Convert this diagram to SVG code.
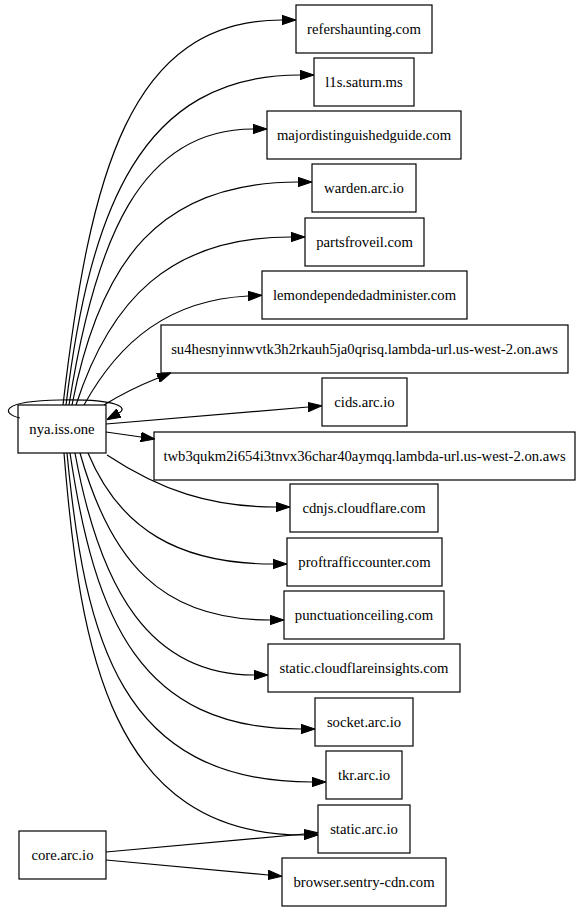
<svg xmlns="http://www.w3.org/2000/svg" width="580" height="912" viewBox="0 0 580 912">
<defs>
<marker id="ah" viewBox="0 -5 14 10" markerWidth="14" markerHeight="10" refX="0" refY="0" orient="auto" markerUnits="userSpaceOnUse">
<path d="M0,-4.7 L14,0 L0,4.7 z" fill="#000" stroke="#000" stroke-width="1"/>
</marker>
<style>
.n rect{fill:none;stroke:#000;stroke-width:1.2}
.n text{font-size:14.7px;text-anchor:middle;fill:#000}
#edges path{fill:none;stroke:#000;stroke-width:1.2;marker-end:url(#ah)}
</style>
</defs>
<rect width="580" height="912" fill="#fff"/>
<g id="edges">
<path d="M20,418 C2,414 -2,401 60,400 C120,399 128,408 119,413"/>
<path d="M63,405 C90,174 129,20 282,20"/>
<path d="M66,405 C90,210 140,75 300,75"/>
<path d="M69,405 C95,240 140,129 253,129"/>
<path d="M72,405 C100,260 160,182 298,182"/>
<path d="M76,405 C110,300 170,237 291,237"/>
<path d="M84,405 C120,340 170,300 248,296"/>
<path d="M104,405 C120,395 138,386 158,378"/>
<path d="M106,424 L308,407"/>
<path d="M106,432 L141,437"/>
<path d="M107,455 C160,490 210,507 276,507"/>
<path d="M88,453 C120,530 180,564 273,564"/>
<path d="M80,453 C110,560 160,620 270,620"/>
<path d="M75,453 C100,590 150,675 254,675"/>
<path d="M70,453 C95,620 140,729 301,729"/>
<path d="M67,453 C85,640 120,782 312,782"/>
<path d="M64,453 C80,650 110,835 304,835"/>
<path d="M106,852 L304,834"/>
<path d="M106,860 L268,875"/>
</g>
<g font-family="'Liberation Serif', 'Times New Roman', Times, 'DejaVu Serif', serif">
<g id="nya" class="n"><rect x="18" y="405" width="88" height="48"/><text x="62" y="434">nya.iss.one</text></g>
<g id="core" class="n"><rect x="19" y="831" width="87" height="48"/><text x="62.5" y="860">core.arc.io</text></g>
<g id="n1" class="n"><rect x="296" y="5" width="136" height="48"/><text x="364" y="34">refershaunting.com</text></g>
<g id="n2" class="n"><rect x="314" y="58" width="100" height="48"/><text x="364" y="87">l1s.saturn.ms</text></g>
<g id="n3" class="n"><rect x="267" y="111" width="194" height="48"/><text x="364" y="140">majordistinguishedguide.com</text></g>
<g id="n4" class="n"><rect x="312" y="164" width="104" height="48"/><text x="364" y="193">warden.arc.io</text></g>
<g id="n5" class="n"><rect x="305" y="218" width="119" height="48"/><text x="364.5" y="247">partsfroveil.com</text></g>
<g id="n6" class="n"><rect x="262" y="271" width="205" height="48"/><text x="364.5" y="300">lemondependedadminister.com</text></g>
<g id="n7" class="n"><rect x="161" y="325" width="407" height="48"/><text x="364.5" y="354">su4hesnyinnwvtk3h2rkauh5ja0qrisq.lambda-url.us-west-2.on.aws</text></g>
<g id="n8" class="n"><rect x="322" y="378" width="85" height="48"/><text x="364.5" y="407">cids.arc.io</text></g>
<g id="n9" class="n"><rect x="154" y="432" width="421" height="48"/><text x="364.5" y="461">twb3qukm2i654i3tnvx36char40aymqq.lambda-url.us-west-2.on.aws</text></g>
<g id="n10" class="n"><rect x="290" y="484" width="148" height="48"/><text x="364" y="513">cdnjs.cloudflare.com</text></g>
<g id="n11" class="n"><rect x="287" y="538" width="155" height="48"/><text x="364.5" y="567">proftrafficcounter.com</text></g>
<g id="n12" class="n"><rect x="284" y="591" width="160" height="48"/><text x="364" y="620">punctuationceiling.com</text></g>
<g id="n13" class="n"><rect x="268" y="644" width="192" height="48"/><text x="364" y="673">static.cloudflareinsights.com</text></g>
<g id="n14" class="n"><rect x="315" y="698" width="98" height="48"/><text x="364" y="727">socket.arc.io</text></g>
<g id="n15" class="n"><rect x="326" y="751" width="76" height="48"/><text x="364" y="780">tkr.arc.io</text></g>
<g id="n16" class="n"><rect x="318" y="805" width="92" height="48"/><text x="364" y="834">static.arc.io</text></g>
<g id="n17" class="n"><rect x="282" y="858" width="164" height="48"/><text x="364" y="887">browser.sentry-cdn.com</text></g>
</g>
</svg>
